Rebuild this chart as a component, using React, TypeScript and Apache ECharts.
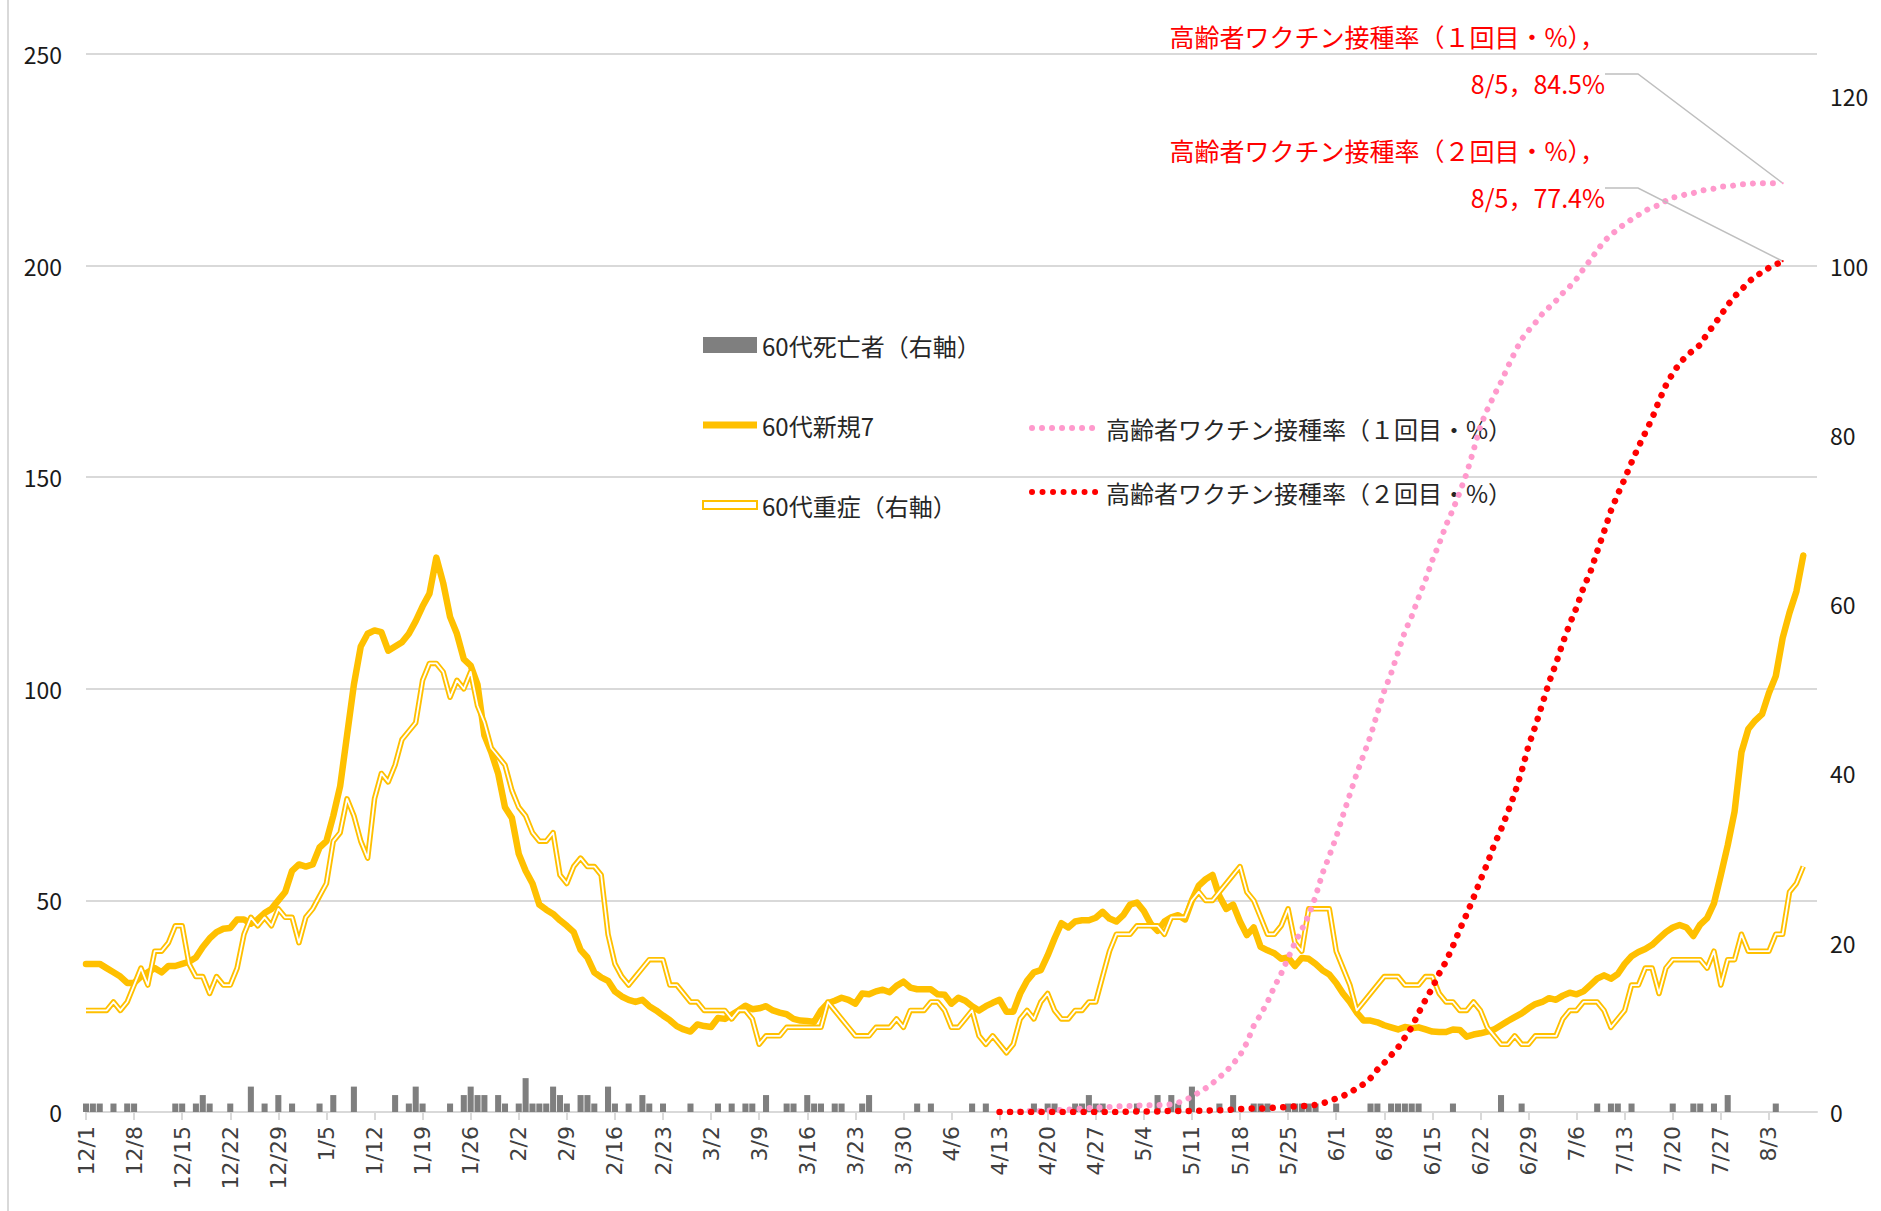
import React, { useEffect, useRef } from "react";
import * as echarts from "echarts";

// ---- categories: daily, 2020-12-01 .. 2021-08-10
const DAY_COUNT = 253;
const categories: string[] = Array.from({ length: DAY_COUNT }, (_, i) => {
  const d = new Date(2020, 11, 1 + i);
  return `${d.getMonth() + 1}/${d.getDate()}`;
});
const LABEL_STEP = 7;
const LAST_LABELLED_DAY = 245; // 8/3

// ---- 60代新規7 (left axis)
const newCases60 = [
  35, 35, 35, 34, 33, 32, 30.5, 30.5, 32, 33,
  34, 33, 34.5, 34.5, 35, 35.5, 36.5, 39, 41, 42.5,
  43.3, 43.5, 45.5, 45.5, 44.5, 45.5, 47, 48, 50, 52,
  57, 58.5, 58, 58.5, 62.5, 64, 70, 77, 89, 101,
  110, 113, 113.8, 113.4, 109, 110, 111, 113, 116, 119.5,
  122.5, 131, 125, 117, 113, 107, 105.5, 101, 89, 85,
  80, 72, 69.5, 61, 57, 54, 49, 47.8, 46.8, 45.3,
  44, 42.5, 38.3, 36.5, 33, 31.8, 31, 28.5, 27.3, 26.5,
  26, 26.5, 25, 24, 22.8, 21.7, 20.3, 19.5, 19, 20.7,
  20.3, 20.1, 22.2, 22, 23, 24, 25.1, 24.3, 24.5, 25,
  24, 23.5, 23.1, 22, 21.6, 21.5, 21.3, 24, 25.7, 26.3,
  27, 26.5, 25.6, 28, 27.8, 28.5, 28.9, 28.3, 29.8, 30.8,
  29.4, 29, 29, 29, 27.8, 27.7, 25.6, 27, 26.3, 25,
  24, 25, 25.8, 26.5, 23.7, 23.7, 28, 31, 33, 33.5,
  37, 41, 44.6, 43.6, 45, 45.3, 45.3, 45.9, 47.3, 45.7,
  45, 46.5, 49, 49.5, 47.5, 44.5, 42.8, 45, 46, 46.5,
  45.5, 50, 53.5, 55, 56, 51, 48, 49, 45, 41.8,
  43.6, 39, 38.2, 37.5, 36.2, 36.5, 34.5, 36.4, 36.2, 35,
  33.5, 32.5, 30.5, 28, 26, 23.5, 21.6, 21.6, 21.2, 20.5,
  20, 19.5, 20.1, 19.8, 20, 19.5, 19, 18.9, 18.9, 19.5,
  19.4, 17.8, 18.3, 18.6, 19, 19.5, 20.5, 21.5, 22.4, 23.3,
  24.5, 25.5, 26, 26.9, 26.5, 27.5, 28.2, 27.8, 28.5, 30,
  31.5, 32.3, 31.5, 32.6, 35, 36.8, 37.8, 38.5, 39.5, 41,
  42.5, 43.6, 44.2, 43.6, 41.6, 44.3, 45.8, 49.3, 56, 63,
  71, 85, 90.5, 92.5, 94, 99, 103, 112, 118, 123,
  131.5,
];

// ---- 60代重症 (right axis)
const severe60 = [
  12, 12, 12, 12, 13, 12, 13, 15, 17, 15,
  19, 19, 20, 22, 22, 17.5, 16, 16, 14, 16,
  15, 15, 17, 21, 23, 22, 23, 22, 24, 23,
  23, 20, 23, 24, 25.5, 27, 32, 33, 37, 35,
  32, 30, 37, 40, 39, 41, 44, 45, 46, 51,
  53, 53, 52, 49, 51, 50, 52, 48, 46, 43,
  42, 41, 38, 36, 35, 33, 32, 32, 33, 28,
  27, 29, 30, 29, 29, 28, 21, 17.5, 16, 15,
  16, 17, 18, 18, 18, 15, 15, 14, 13, 13,
  12, 12, 12, 12, 11, 12, 12, 11, 8, 9,
  9, 9, 10, 10, 10, 10, 10, 10, 13, 12,
  11, 10, 9, 9, 9, 10, 10, 10, 11, 10,
  12, 12, 12, 13, 13, 12, 10, 10, 11, 12,
  9, 8, 9, 8, 7, 8, 11, 12, 11, 13,
  14, 12, 11, 11, 12, 12, 13, 13, 16, 19,
  21, 21, 21, 22, 22, 22, 22, 21, 23, 23,
  23, 25, 26, 25, 25, 26, 27, 28, 29, 26,
  25, 23, 21, 21, 22, 24, 20, 19, 24, 24,
  24, 24, 19, 17, 15, 12, 13, 14, 15, 16,
  16, 16, 15, 15, 15, 16, 16, 14, 13, 13,
  12, 12, 13, 12, 10, 9, 8, 8, 9, 8,
  8, 9, 9, 9, 9, 11, 12, 12, 13, 13,
  13, 12, 10, 11, 12, 15, 15, 17, 17, 14,
  17, 18, 18, 18, 18, 18, 17, 19, 15, 18,
  18, 21, 19, 19, 19, 19, 21, 21, 26, 27,
  29,
];

// ---- 60代死亡者 (right axis): day index -> count
const deathDays = [
  0, 1, 2, 4, 6, 7, 13, 14, 16, 17,
  18, 21, 24, 26, 28, 30, 34, 36, 39, 45,
  47, 48, 49, 53, 55, 56, 57, 58, 60, 61,
  63, 64, 65, 66, 67, 68, 69, 70, 72, 73,
  74, 76, 77, 79, 81, 82, 84, 88, 92, 94,
  96, 97, 99, 102, 103, 105, 106, 107, 109, 110,
  113, 114, 121, 123, 129, 131, 138, 140, 141, 144,
  145, 146, 147, 148, 153, 156, 158, 159, 161, 165,
  167, 170, 171, 172, 175, 176, 177, 178, 179, 182,
  187, 188, 190, 191, 192, 193, 194, 199, 206, 209,
  220, 222, 223, 225, 231, 234, 235, 237, 239, 246,
];
const deathCounts = [
  1, 1, 1, 1, 1, 1, 1, 1, 1, 2,
  1, 1, 3, 1, 2, 1, 1, 2, 3, 2,
  1, 3, 1, 1, 2, 3, 2, 2, 2, 1,
  1, 4, 1, 1, 1, 3, 2, 1, 2, 2,
  1, 3, 1, 1, 2, 1, 1, 1, 1, 1,
  1, 1, 2, 1, 1, 2, 1, 1, 1, 1,
  1, 2, 1, 1, 1, 1, 1, 1, 1, 1,
  1, 2, 1, 1, 1, 2, 2, 1, 3, 1,
  2, 1, 1, 1, 1, 1, 1, 1, 1, 1,
  1, 1, 1, 1, 1, 1, 1, 1, 2, 1,
  1, 1, 1, 1, 1, 1, 1, 1, 2, 1,
];

// ---- 高齢者ワクチン接種率 (%), from 4/13 (day 133) to 8/5 (day 247)
const vaccineStart = 133;
const vaccine1 = [
  0, 0, 0.04, 0.04, 0.08, 0.08, 0.08, 0.12, 0.15, 0.19,
  0.23, 0.27, 0.31, 0.35, 0.39, 0.42, 0.46, 0.5, 0.54, 0.54,
  0.58, 0.58, 0.62, 0.62, 0.65, 0.69, 0.85, 1.08, 1.39, 1.77,
  2.16, 2.62, 3.16, 3.7, 4.39, 5.16, 6.31, 7.85, 8.86, 10.0,
  11.4, 12.6, 14.0, 15.4, 16.6, 17.9, 19.6, 21.7, 23.3, 25.0,
  27.0, 28.9, 30.8, 32.5, 34.2, 36.3, 38.3, 39.9, 41.8, 43.7,
  45.1, 46.8, 48.4, 50.2, 51.7, 53.4, 54.8, 56.4, 58.1, 60.2,
  62.4, 63.9, 65.2, 66.4, 67.8, 69.1, 70.3, 71.1, 71.8, 72.6,
  73.2, 73.8, 74.5, 75.1, 75.8, 76.7, 77.5, 78.4, 79.2, 79.8,
  80.3, 80.8, 81.2, 81.6, 82.0, 82.3, 82.5, 82.9, 83.2, 83.3,
  83.5, 83.6, 83.8, 83.9, 84.0, 84.2, 84.2, 84.3, 84.4, 84.4,
  84.5, 84.5, 84.5, 84.5, 84.5,
];
const vaccine2 = [
  0, 0, 0, 0, 0, 0, 0, 0, 0, 0,
  0, 0, 0, 0, 0, 0, 0, 0, 0, 0.04,
  0.04, 0.04, 0.04, 0.04, 0.08, 0.08, 0.08, 0.08, 0.08, 0.12,
  0.12, 0.15, 0.15, 0.15, 0.23, 0.27, 0.31, 0.31, 0.31, 0.35,
  0.39, 0.42, 0.46, 0.5, 0.54, 0.54, 0.65, 0.77, 1.0, 1.23,
  1.46, 1.77, 2.16, 2.54, 3.08, 3.85, 4.47, 5.16, 5.85, 6.78,
  7.7, 9.01, 10.2, 11.3, 12.6, 13.7, 15.1, 16.6, 18.0, 19.5,
  21.1, 22.6, 24.3, 25.7, 27.3, 29.0, 31.0, 33.3, 35.1, 37.1,
  39.1, 40.8, 42.7, 44.4, 45.9, 47.7, 49.1, 51.0, 52.8, 54.7,
  56.2, 57.6, 59.1, 60.5, 61.8, 63.1, 64.7, 66.1, 67.2, 68.1,
  68.8, 69.3, 69.8, 70.8, 71.6, 72.5, 73.4, 74.2, 74.8, 75.5,
  76.0, 76.4, 76.8, 77.1, 77.4,
];

const SERIES_DEATH = "60代死亡者（右軸）";
const SERIES_NEW = "60代新規7";
const SERIES_SEVERE = "60代重症（右軸）";
const SERIES_V1 = "高齢者ワクチン接種率（１回目・%）";
const SERIES_V2 = "高齢者ワクチン接種率（２回目・%）";
const V1_LABEL = "高齢者ワクチン接種率（１回目・%），\n8/5，84.5%";
const V2_LABEL = "高齢者ワクチン接種率（２回目・%），\n8/5，77.4%";

const FONT = "'Noto Sans CJK JP', 'Noto Sans', sans-serif";
const YELLOW = "#FFC000";
const PINK = "#FF99CC";
const RED = "#FF0000";
const GRAY = "#7F7F7F";
const GRID = "#D9D9D9";

function buildDeaths() {
  const arr: (number | null)[] = newCases60.map(() => null);
  deathDays.forEach((d, i) => {
    arr[d] = deathCounts[i];
  });
  return arr;
}

function buildVaccine(values: number[], label: string, color: string) {
  const arr: any[] = [];
  for (let i = 0; i < vaccineStart; i++) arr.push(null);
  values.forEach((v, i) => {
    if (i === values.length - 1) {
      arr.push({
        value: v,
        symbol: "circle",
        symbolSize: 2,
        itemStyle: { color, opacity: 1 },
        label: { show: true, formatter: label, opacity: 1 },
      });
    } else {
      arr.push(v);
    }
  });
  return arr;
}

const showDayLabel = (index: number) => index % LABEL_STEP === 0 && index <= LAST_LABELLED_DAY;

export default function App() {
  const ref = useRef<HTMLDivElement>(null);
  useEffect(() => {
    if (!ref.current) return;
    const chart = echarts.init(ref.current, undefined, { renderer: "svg" });
    const labelStyle = {
      show: false,
      color: RED,
      fontSize: 25,
      lineHeight: 47,
      fontFamily: FONT,
      align: "right",
      padding: [0, 0, 30, 0],
    };
    const labelLine = {
      show: true,
      length2: 33,
      lineStyle: { color: "#BFBFBF", width: 1.5 },
    };
    const legendText = { fontSize: 24, color: "#262626", lineHeight: 26, fontFamily: FONT };
    const option: any = {
      animation: false,
      backgroundColor: "#ffffff",
      textStyle: { fontFamily: FONT },
      grid: { left: 86, right: 64, top: 54, bottom: 99 },
      graphic: [
        {
          type: "line",
          shape: { x1: 8, y1: 0, x2: 8, y2: 1211 },
          style: { stroke: GRID, lineWidth: 2 },
          silent: true,
        },
      ],
      legend: [
        {
          orient: "vertical",
          left: 697,
          top: 327,
          itemWidth: 54,
          itemHeight: 16,
          itemGap: 54,
          selectedMode: false,
          textStyle: legendText,
          data: [
            { name: SERIES_DEATH, icon: "rect" },
            { name: SERIES_NEW, icon: "path://M0,0H54V7H0Z", itemStyle: { color: YELLOW } },
            {
              name: SERIES_SEVERE,
              icon: "path://M0,0H54V8H0Z",
              itemStyle: { color: "#ffffff", borderColor: YELLOW, borderWidth: 2 },
            },
          ],
        },
        {
          orient: "vertical",
          left: 1024,
          top: 410,
          itemWidth: 69,
          itemHeight: 16,
          itemGap: 38,
          selectedMode: false,
          textStyle: legendText,
          itemStyle: { opacity: 0 },
          lineStyle: { width: 6 },
          data: [{ name: SERIES_V1 }, { name: SERIES_V2 }],
        },
      ],
      xAxis: {
        type: "category",
        data: categories,
        boundaryGap: false,
        axisLine: { lineStyle: { color: GRID, width: 2 } },
        axisTick: { interval: showDayLabel, length: 8, lineStyle: { color: GRID, width: 2 } },
        axisLabel: {
          interval: showDayLabel,
          rotate: 90,
          margin: 14,
          fontSize: 22,
          color: "#404040",
          fontFamily: "'DejaVu Sans', sans-serif",
        },
      },
      yAxis: [
        {
          type: "value",
          min: 0,
          max: 250,
          interval: 50,
          axisLine: { show: false },
          axisTick: { show: false },
          splitLine: { lineStyle: { color: GRID, width: 2 } },
          axisLabel: { fontSize: 23, color: "#1a1a1a", margin: 24 },
        },
        {
          type: "value",
          position: "right",
          min: 0,
          max: 125,
          interval: 20,
          axisLine: { show: false },
          axisTick: { show: false },
          splitLine: { show: false },
          axisLabel: { fontSize: 23, color: "#1a1a1a", margin: 13, showMaxLabel: false },
        },
        { type: "value", min: 0, max: 96.25, show: false },
      ],
      series: [
        {
          name: SERIES_DEATH,
          type: "bar",
          yAxisIndex: 1,
          data: buildDeaths(),
          barCategoryGap: "12%",
          itemStyle: { color: GRAY },
          z: 1,
        },
        {
          name: SERIES_NEW,
          type: "line",
          yAxisIndex: 0,
          data: newCases60,
          symbol: "none",
          lineStyle: { color: YELLOW, width: 6.5, join: "round", cap: "round" },
          itemStyle: { color: YELLOW },
          z: 3,
        },
        {
          name: SERIES_SEVERE,
          type: "line",
          yAxisIndex: 1,
          data: severe60,
          symbol: "none",
          lineStyle: { color: YELLOW, width: 5.5, join: "round" },
          itemStyle: { color: YELLOW },
          z: 4,
        },
        {
          name: SERIES_SEVERE,
          type: "line",
          yAxisIndex: 1,
          data: severe60,
          symbol: "none",
          lineStyle: { color: "#ffffff", width: 1.8, join: "round" },
          itemStyle: { color: "#ffffff" },
          z: 5,
        },
        {
          name: SERIES_V1,
          type: "line",
          yAxisIndex: 2,
          data: buildVaccine(vaccine1, V1_LABEL, PINK),
          symbol: "none",
          showSymbol: true,
          showAllSymbol: true,
          lineStyle: { color: PINK, width: 6, type: [0.01, 10], cap: "round" },
          itemStyle: { color: PINK },
          label: labelStyle,
          labelLine,
          labelLayout: { x: 1605, y: 12, align: "right", verticalAlign: "top" },
          z: 6,
        },
        {
          name: SERIES_V2,
          type: "line",
          yAxisIndex: 2,
          data: buildVaccine(vaccine2, V2_LABEL, RED),
          symbol: "none",
          showSymbol: true,
          showAllSymbol: true,
          lineStyle: { color: RED, width: 6.5, type: [0.01, 10.5], cap: "round" },
          itemStyle: { color: RED },
          label: labelStyle,
          labelLine,
          labelLayout: { x: 1605, y: 126, align: "right", verticalAlign: "top" },
          z: 7,
        },
      ],
    };
    chart.setOption(option);
    return () => chart.dispose();
  }, []);
  return (
    <div
      ref={ref}
      style={{ position: "absolute", left: 0, top: 0, width: 1881, height: 1211, background: "#fff" }}
    />
  );
}
